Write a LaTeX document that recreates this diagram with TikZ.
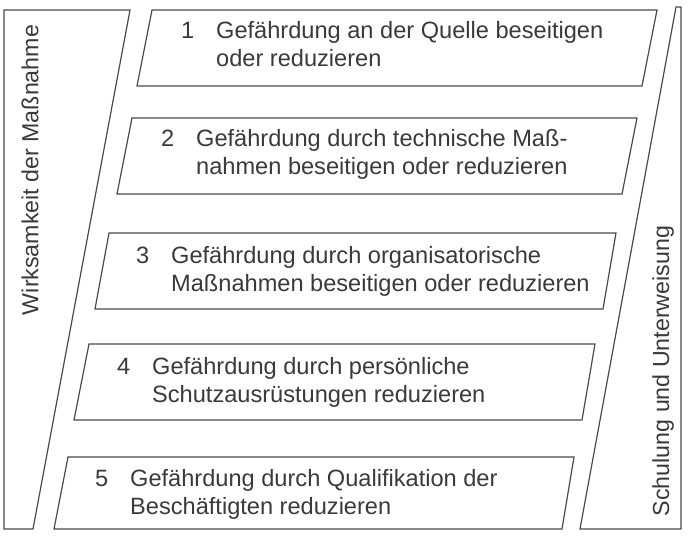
\documentclass[tikz,border=0pt]{standalone}
\usepackage{fontspec}
\setmainfont{Liberation Sans}
\definecolor{lineC}{HTML}{4A4A4A}
\definecolor{textC}{HTML}{3A3A3A}
\tikzset{
  frame/.style={draw=lineC, line width=1.2pt, line join=miter, fill=white},
  stepbox/.style={draw=lineC, line width=1.2pt, fill=white},
  txt/.style={inner sep=0pt, anchor=west, text=textC, font=\fontsize{23.6}{28}\selectfont, align=left},
  side/.style={inner sep=0pt, text=textC, font=\fontsize{23.2}{28}\selectfont, rotate=90}
}
\newcommand{\stepitem}[3]{\begin{tabular}{@{}l@{}l@{}}\makebox[35pt][l]{#1}&#2\\&#3\end{tabular}}
\begin{document}
\begin{tikzpicture}[x=1pt,y=-1pt]
\useasboundingbox (0,0) rectangle (689,539);
% side frames
\draw[frame] (4,10) -- (130,10) -- (33,529) -- (4,529) -- cycle;
\draw[frame] (676,7) -- (681,7) -- (681,529) -- (580,529) -- cycle;
\node[side] (wirk) at (30,170) {Wirksamkeit der Maßnahme};
\node[side] (schul) at (663,371) {Schulung und Unterweisung};
% boxes
\draw[stepbox] (152,10) -- (657,10) -- (642,86) -- (137,86) -- cycle;
\draw[stepbox] (132,118) -- (637,118) -- (622,194) -- (117,194) -- cycle;
\draw[stepbox] (109,233) -- (616,233) -- (603,309) -- (95,309) -- cycle;
\draw[stepbox] (89,344) -- (595,344) -- (582,420) -- (74,420) -- cycle;
\draw[stepbox] (68,457) -- (574,457) -- (562,529) -- (54,529) -- cycle;
% texts
\node[txt] (t1) at (181,47) {\stepitem{1}{Gefährdung an der Quelle beseitigen}{oder reduzieren}};
\node[txt] (t2) at (161,155) {\stepitem{2}{Gefährdung durch technische Maß-}{nahmen beseitigen oder reduzieren}};
\node[txt] (t3) at (136,272) {\stepitem{3}{Gefährdung durch organisatorische}{Maßnahmen beseitigen oder reduzieren}};
\node[txt] (t4) at (117,383) {\stepitem{4}{Gefährdung durch persönliche}{Schutzausrüstungen reduzieren}};
\node[txt] (t5) at (95,495) {\stepitem{5}{Gefährdung durch Qualifikation der}{Beschäftigten reduzieren}};
\end{tikzpicture}
\end{document}
